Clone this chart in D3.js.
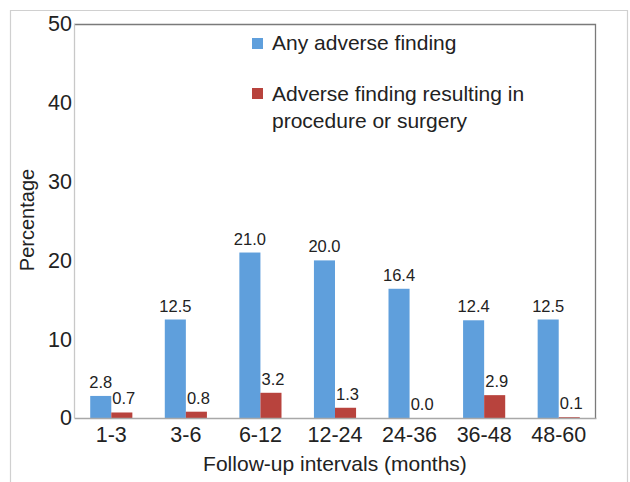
<!DOCTYPE html>
<html>
<head>
<meta charset="utf-8">
<script src="https://cdn.jsdelivr.net/npm/d3@7/dist/d3.min.js"></script>
<style>
  body { margin:0; background:#fff; }
  svg { display:block; font-family:"Liberation Sans", Arial, Helvetica, sans-serif; }
</style>
</head>
<body>
<div id="chart"></div>
<script>
// data
var intervals = ["1-3", "3-6", "6-12", "12-24", "24-36", "36-48", "48-60"];
var anyAdverse = [2.8, 12.5, 21.0, 20.0, 16.4, 12.4, 12.5];
var procSurgery = [0.7, 0.8, 3.2, 1.3, 0.0, 2.9, 0.1];
var seriesNames = ["Any adverse finding", "Adverse finding resulting in procedure or surgery"];
var yTicks = [0, 10, 20, 30, 40, 50];

var W = 630, H = 482;
var m = {top:24, right:34, bottom:64, left:74};
var w = W - m.left - m.right, h = H - m.top - m.bottom;
var colors = ["#5f9fdc", "#b8433d"];

var svg = d3.select("#chart").append("svg")
  .attr("width", W).attr("height", H);

// outer light frame
svg.append("path")
  .attr("d", "M10.5," + H + "V10.5H627.5V" + H)
  .attr("fill", "none").attr("stroke", "#d0d0d0").attr("stroke-width", 1.2);

var g = svg.append("g").attr("transform", "translate(" + m.left + "," + m.top + ")");

var x0 = d3.scaleBand().domain(intervals).range([0, w])
  .paddingInner(0.435).paddingOuter(0.2175);
var x1 = d3.scaleBand().domain([0, 1]).range([0, x0.bandwidth()]);
var y = d3.scaleLinear().domain([0, 50]).range([h, 0]);

// plot frame: top + right darker, left lighter
g.append("path").attr("d", "M0,0.5H" + (w - 0.5) + "V" + h)
  .attr("fill", "none").attr("stroke", "#7a7a7a").attr("stroke-width", 1.3);
g.append("line").attr("x1", 0.5).attr("x2", 0.5).attr("y1", 0).attr("y2", h)
  .attr("stroke", "#c8c8c8").attr("stroke-width", 1.3);

// y axis labels
var yAxis = g.append("g").call(d3.axisLeft(y).tickValues(yTicks).tickSize(0).tickPadding(2));
yAxis.select(".domain").remove();
yAxis.selectAll("text").attr("font-size", 21.5).attr("fill", "#222").style("font-family", "inherit");

var groups = intervals.map(function(c, i){ return {cat:c, vals:[anyAdverse[i], procSurgery[i]]}; });

var grp = g.selectAll(".grp").data(groups).enter().append("g")
  .attr("class", "grp")
  .attr("transform", function(d){ return "translate(" + x0(d.cat) + ",0)"; });

grp.selectAll("rect").data(function(d){ return d.vals; }).enter().append("rect")
  .attr("x", function(d, i){ return x1(i); })
  .attr("width", x1.bandwidth())
  .attr("y", function(d){ return y(d); })
  .attr("height", function(d){ return h - y(d); })
  .attr("fill", function(d, i){ return colors[i]; });

grp.selectAll(".val").data(function(d){ return d.vals; }).enter().append("text")
  .attr("class", "val")
  .attr("x", function(d, i){ return x1(i) + x1.bandwidth() / 2 + (i ? 2 : 0); })
  .attr("y", function(d){ return y(d) - 8; })
  .attr("text-anchor", "middle")
  .attr("font-size", 16.5).attr("fill", "#222")
  .text(function(d){ return d.toFixed(1); });

// x axis
var xAxis = g.append("g").attr("transform", "translate(0," + h + ")")
  .call(d3.axisBottom(x0).tickSize(0).tickPadding(9));
xAxis.select(".domain").attr("stroke", "#a8a8a8").attr("stroke-width", 1.5);
xAxis.selectAll("text").attr("font-size", 21.5).attr("fill", "#222").style("font-family", "inherit");

// axis titles
svg.append("text")
  .attr("x", m.left + w / 2).attr("y", 471)
  .attr("text-anchor", "middle").attr("font-size", 21).attr("fill", "#222")
  .text("Follow-up intervals (months)");
svg.append("text")
  .attr("transform", "translate(34,220) rotate(-90)")
  .attr("text-anchor", "middle").attr("font-size", 20).attr("fill", "#222")
  .text("Percentage");

// legend
var leg = svg.append("g").attr("transform", "translate(252,38)");
leg.append("rect").attr("x", 0).attr("y", 0).attr("width", 11).attr("height", 11).attr("fill", colors[0]);
leg.append("text").attr("x", 20).attr("y", 12).attr("font-size", 21).attr("fill", "#222").text(seriesNames[0]);
leg.append("rect").attr("x", 0).attr("y", 50).attr("width", 11).attr("height", 11).attr("fill", colors[1]);
var t2 = leg.append("text").attr("font-size", 21).attr("fill", "#222");
t2.append("tspan").attr("x", 20).attr("y", 63).text("Adverse finding resulting in");
t2.append("tspan").attr("x", 20).attr("y", 90).text("procedure or surgery");
</script>
</body>
</html>
